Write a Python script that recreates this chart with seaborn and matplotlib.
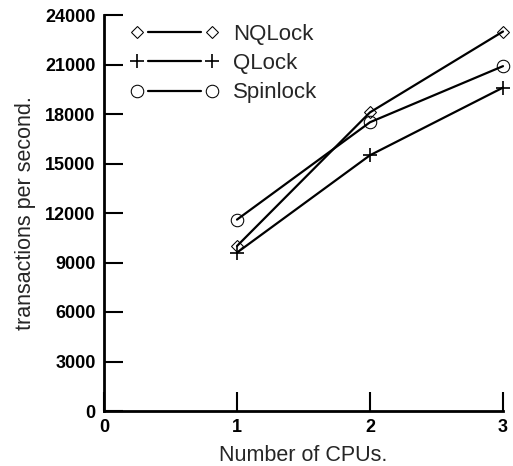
import matplotlib
matplotlib.use("Agg")
import matplotlib.pyplot as plt
from matplotlib.legend_handler import HandlerLine2D
from matplotlib.lines import Line2D
import seaborn as sns
import pandas as pd

cpus = [1, 2, 3]
nqlock = [10000, 18100, 23000]
qlock = [9600, 15500, 19600]
spinlock = [11600, 17500, 20900]
series_names = ["NQLock", "QLock", "Spinlock"]
y_ticks = [0, 3000, 6000, 9000, 12000, 15000, 18000, 21000, 24000]
x_ticks = [0, 1, 2, 3]

sns.set_theme(style="ticks")
plt.rcParams["font.family"] = ["Liberation Sans", "DejaVu Sans"]


class GapLineHandler(HandlerLine2D):
    """Legend handle: two end markers joined by a line that stops short of them."""

    def create_artists(self, legend, orig_handle, xdescent, ydescent,
                       width, height, fontsize, trans):
        xdata, _ = self.get_xdata(legend, xdescent, ydescent, width, height, fontsize)
        y = (height - ydescent) / 2
        marks = Line2D(xdata, [y] * len(xdata))
        self.update_prop(marks, orig_handle, legend)
        marks.set_linestyle("None")
        gap = 0.5 * fontsize
        seg = Line2D([xdata[0] + gap, xdata[-1] - gap], [y, y])
        self.update_prop(seg, orig_handle, legend)
        seg.set_marker("None")
        marks.set_transform(trans)
        seg.set_transform(trans)
        return [seg, marks]


fig = plt.figure(figsize=(5.13, 4.66), dpi=100)
ax = fig.add_axes([104 / 513, 55 / 466, 399 / 513, 396 / 466])

styles = {
    "NQLock": dict(marker="D", markersize=6.5),
    "QLock": dict(marker="+", markersize=10, markeredgewidth=1.2),
    "Spinlock": dict(marker="o", markersize=9),
}
for name, vals in zip(series_names, [nqlock, qlock, spinlock]):
    df = pd.DataFrame({"cpus": cpus, "tps": vals})
    sns.lineplot(data=df, x="cpus", y="tps", ax=ax, color="black", lw=1.6,
                 markerfacecolor="none", markeredgecolor="black",
                 label=name, clip_on=False, **styles[name])

ax.set_xlim(0, 3)
ax.set_ylim(0, 24000)
ax.set_xticks(x_ticks)
ax.set_yticks(y_ticks)
ax.set_xticklabels([str(t) for t in x_ticks], fontweight="bold", fontsize=13)
ax.set_yticklabels([str(t) for t in y_ticks], fontweight="bold", fontsize=13)
ax.tick_params(axis="both", direction="in", length=14, width=1.5, colors="black")
ax.tick_params(axis="y", pad=6)
ax.tick_params(axis="x", pad=6)
for side in ["top", "right"]:
    ax.spines[side].set_visible(False)
for side in ["left", "bottom"]:
    ax.spines[side].set_linewidth(2)
    ax.spines[side].set_color("black")

ax.set_xlabel("Number of CPUs.", fontsize=15.5, labelpad=6)
ax.set_ylabel("transactions per second.", fontsize=15.5, labelpad=7)

handles, labels = ax.get_legend_handles_labels()
leg = ax.legend(handles, labels, loc="upper left", bbox_to_anchor=(0.043, 1.0),
                borderaxespad=0, frameon=False, numpoints=2, handlelength=4.0,
                fontsize=16, labelspacing=0.37, handletextpad=0.65,
                handler_map={h: GapLineHandler() for h in handles})

fig.savefig("out.png", dpi=100)
